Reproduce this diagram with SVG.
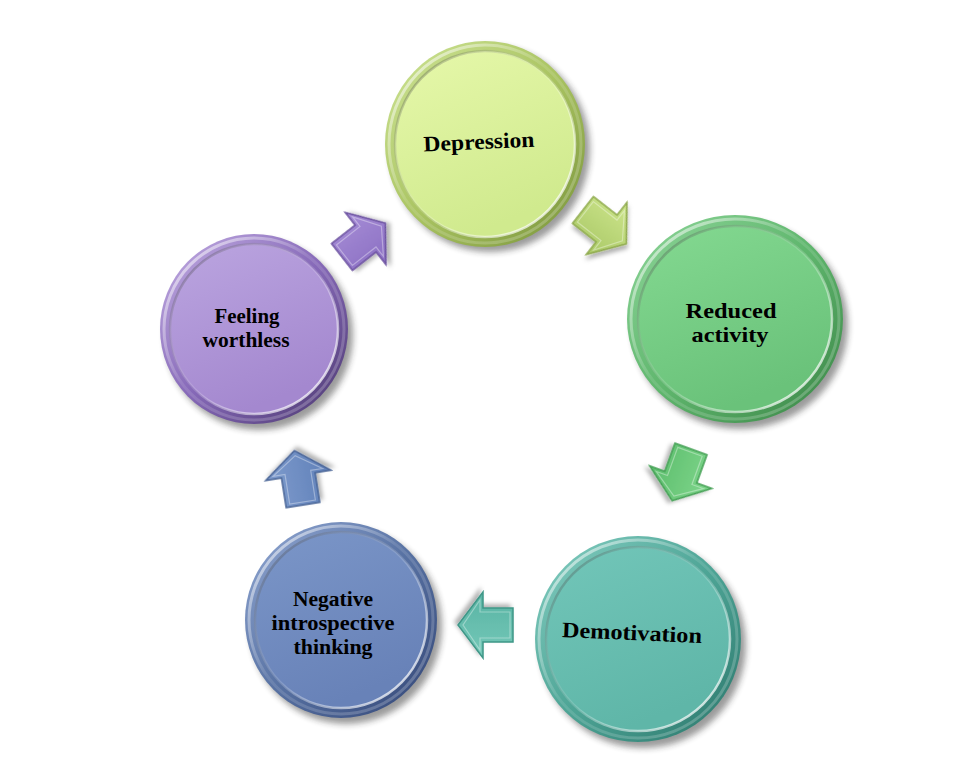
<svg xmlns="http://www.w3.org/2000/svg" width="957" height="769" viewBox="0 0 957 769">
<defs>
  <filter id="sh" x="-20%" y="-20%" width="140%" height="140%">
    <feGaussianBlur stdDeviation="3"/>
  </filter>
  <filter id="ash" x="-30%" y="-30%" width="160%" height="160%">
    <feDropShadow dx="3" dy="3" stdDeviation="2" flood-color="#000" flood-opacity="0.3"/>
  </filter>
  <linearGradient id="rim" x1="0" y1="0" x2="1" y2="1">
    <stop offset="0" stop-color="#000" stop-opacity="0.35"/>
    <stop offset="0.5" stop-color="#fff" stop-opacity="0.15"/>
    <stop offset="1" stop-color="#fff" stop-opacity="0.95"/>
  </linearGradient>
  <linearGradient id="hl" x1="0" y1="0" x2="1" y2="1">
    <stop offset="0" stop-color="#fff" stop-opacity="0.7"/>
    <stop offset="0.45" stop-color="#fff" stop-opacity="0.1"/>
    <stop offset="1" stop-color="#fff" stop-opacity="0.25"/>
  </linearGradient>
  <!-- ring gradients -->
  <linearGradient id="r1" x1="0" y1="0" x2="1" y2="1"><stop offset="0" stop-color="#cfe597"/><stop offset="0.5" stop-color="#aac462"/><stop offset="1" stop-color="#78933a"/></linearGradient>
  <linearGradient id="r2" x1="0" y1="0" x2="1" y2="1"><stop offset="0" stop-color="#8fd69a"/><stop offset="0.5" stop-color="#5fb66d"/><stop offset="1" stop-color="#3a8446"/></linearGradient>
  <linearGradient id="r3" x1="0" y1="0" x2="1" y2="1"><stop offset="0" stop-color="#86cfc3"/><stop offset="0.5" stop-color="#4ea596"/><stop offset="1" stop-color="#2b766b"/></linearGradient>
  <linearGradient id="r4" x1="0" y1="0" x2="1" y2="1"><stop offset="0" stop-color="#93a9d4"/><stop offset="0.5" stop-color="#5872a3"/><stop offset="1" stop-color="#324575"/></linearGradient>
  <linearGradient id="r5" x1="0" y1="0" x2="1" y2="1"><stop offset="0" stop-color="#c4afe4"/><stop offset="0.5" stop-color="#8669b8"/><stop offset="1" stop-color="#4a376e"/></linearGradient>
  <!-- fill gradients -->
  <linearGradient id="f1" x1="0" y1="0" x2="0.4" y2="1"><stop offset="0" stop-color="#e6f8aa"/><stop offset="1" stop-color="#d0ea8e"/></linearGradient>
  <linearGradient id="f2" x1="0" y1="0" x2="0.4" y2="1"><stop offset="0" stop-color="#84d991"/><stop offset="1" stop-color="#6ac27a"/></linearGradient>
  <linearGradient id="f3" x1="0" y1="0" x2="0.4" y2="1"><stop offset="0" stop-color="#72c6b9"/><stop offset="1" stop-color="#5fb6a8"/></linearGradient>
  <linearGradient id="f4" x1="0" y1="0" x2="0.4" y2="1"><stop offset="0" stop-color="#7b96c8"/><stop offset="1" stop-color="#6882b8"/></linearGradient>
  <linearGradient id="f5" x1="0" y1="0" x2="0.4" y2="1"><stop offset="0" stop-color="#bba5e0"/><stop offset="1" stop-color="#a488cf"/></linearGradient>
  <!-- arrow gradients -->
  <linearGradient id="a1" x1="0" y1="0" x2="0" y2="1"><stop offset="0" stop-color="#cde58c"/><stop offset="1" stop-color="#a9c866"/></linearGradient>
  <linearGradient id="a2" x1="0" y1="0" x2="0" y2="1"><stop offset="0" stop-color="#7fd68c"/><stop offset="1" stop-color="#5cbd6c"/></linearGradient>
  <linearGradient id="a3" x1="0" y1="0" x2="0" y2="1"><stop offset="0" stop-color="#76c9b9"/><stop offset="1" stop-color="#58b3a3"/></linearGradient>
  <linearGradient id="a4" x1="0" y1="0" x2="0" y2="1"><stop offset="0" stop-color="#7f9ccd"/><stop offset="1" stop-color="#5f7fb8"/></linearGradient>
  <linearGradient id="a5" x1="0" y1="0" x2="0" y2="1"><stop offset="0" stop-color="#a68dd6"/><stop offset="1" stop-color="#8a6ec2"/></linearGradient>
  <polygon id="arrow" points="0,-17 30,-17 30,-33 55,0 30,33 30,17 0,17"/>
  <polygon id="arrowIn" points="3,-13 33,-13 33,-25 50,0 33,25 33,13 3,13"/>
</defs>
<style>
  .shadow { fill: #222; opacity: 0.45; filter: url(#sh); }
  .hl { fill: none; stroke: url(#hl); stroke-width: 3; }
  .rim { stroke: url(#rim); stroke-width: 2.5; }
  .lbl { font-family: "Liberation Serif", "DejaVu Serif", serif; font-weight: bold; font-size: 22px; fill: #000; text-anchor: middle; }
  .lbl-s { font-size: 21px; }
  .aw { stroke-width: 1.5; stroke-linejoin: miter; filter: url(#ash); }
  .awin { fill: none; stroke: #fff; stroke-opacity: 0.35; stroke-width: 1.2; }
</style>
<rect width="957" height="769" fill="#fff"/>

<g id="connectors">
  <g id="c1" transform="translate(583,210) rotate(38)">
    <use href="#arrow" class="aw" fill="url(#a1)" stroke="#8faa4e"/>
    <use href="#arrowIn" class="awin"/>
  </g>
  <g id="c2" transform="translate(691,449) rotate(110)">
    <use href="#arrow" class="aw" fill="url(#a2)" stroke="#45a055"/>
    <use href="#arrowIn" class="awin"/>
  </g>
  <g id="c3" transform="translate(513,625) rotate(180)">
    <use href="#arrow" class="aw" fill="url(#a3)" stroke="#3f9687"/>
    <use href="#arrowIn" class="awin"/>
  </g>
  <g id="c4" transform="translate(303,505) rotate(-99)">
    <use href="#arrow" class="aw" fill="url(#a4)" stroke="#4a6597"/>
    <use href="#arrowIn" class="awin"/>
  </g>
  <g id="c5" transform="translate(342,257) rotate(-38)">
    <use href="#arrow" class="aw" fill="url(#a5)" stroke="#6c52a0"/>
    <use href="#arrowIn" class="awin"/>
  </g>
</g>

<g id="n-depression">
  <ellipse class="shadow" cx="490" cy="149" rx="100" ry="103"/>
  <ellipse cx="485" cy="144" rx="100" ry="103" fill="url(#r1)"/>
  <ellipse class="hl" cx="485" cy="144" rx="96" ry="99"/>
  <ellipse class="rim" cx="485" cy="144" rx="90" ry="93" fill="url(#f1)"/>
  <text class="lbl" x="479" y="149" textLength="111" lengthAdjust="spacingAndGlyphs" transform="rotate(-2.5 479 143)">Depression</text>
</g>

<g id="n-reduced">
  <ellipse class="shadow" cx="740" cy="325" rx="108" ry="104"/>
  <ellipse cx="735" cy="319" rx="108" ry="104" fill="url(#r2)"/>
  <ellipse class="hl" cx="735" cy="319" rx="104" ry="100"/>
  <ellipse class="rim" cx="735" cy="319" rx="97" ry="93" fill="url(#f2)"/>
  <text class="lbl" x="731" y="318" textLength="91" lengthAdjust="spacingAndGlyphs">Reduced</text>
  <text class="lbl" x="730" y="342" textLength="77" lengthAdjust="spacingAndGlyphs">activity</text>
</g>

<g id="n-demotivation">
  <ellipse class="shadow" cx="643" cy="645" rx="103" ry="103"/>
  <ellipse cx="638" cy="639" rx="103" ry="103" fill="url(#r3)"/>
  <ellipse class="hl" cx="638" cy="639" rx="99" ry="99"/>
  <ellipse class="rim" cx="638" cy="639" rx="92" ry="92" fill="url(#f3)"/>
  <text class="lbl" x="632" y="640" textLength="140" lengthAdjust="spacingAndGlyphs" transform="rotate(2.5 632 634)">Demotivation</text>
</g>

<g id="n-negative">
  <ellipse class="shadow" cx="346" cy="626" rx="96" ry="98"/>
  <ellipse cx="341" cy="620" rx="96" ry="98" fill="url(#r4)"/>
  <ellipse class="hl" cx="341" cy="620" rx="92" ry="94"/>
  <ellipse class="rim" cx="341" cy="620" rx="86" ry="88" fill="url(#f4)"/>
  <text class="lbl" x="333" y="606" textLength="80" lengthAdjust="spacingAndGlyphs">Negative</text>
  <text class="lbl" x="333" y="630" textLength="123" lengthAdjust="spacingAndGlyphs">introspective</text>
  <text class="lbl" x="333" y="654" textLength="79" lengthAdjust="spacingAndGlyphs">thinking</text>
</g>

<g id="n-feeling">
  <ellipse class="shadow" cx="259" cy="335" rx="94" ry="95"/>
  <ellipse cx="254" cy="329" rx="94" ry="95" fill="url(#r5)"/>
  <ellipse class="hl" cx="254" cy="329" rx="90" ry="91"/>
  <ellipse class="rim" cx="254" cy="329" rx="84" ry="85" fill="url(#f5)"/>
  <text class="lbl lbl-s" x="247" y="323" textLength="65" lengthAdjust="spacingAndGlyphs">Feeling</text>
  <text class="lbl lbl-s" x="246" y="347" textLength="87" lengthAdjust="spacingAndGlyphs">worthless</text>
</g>
</svg>
